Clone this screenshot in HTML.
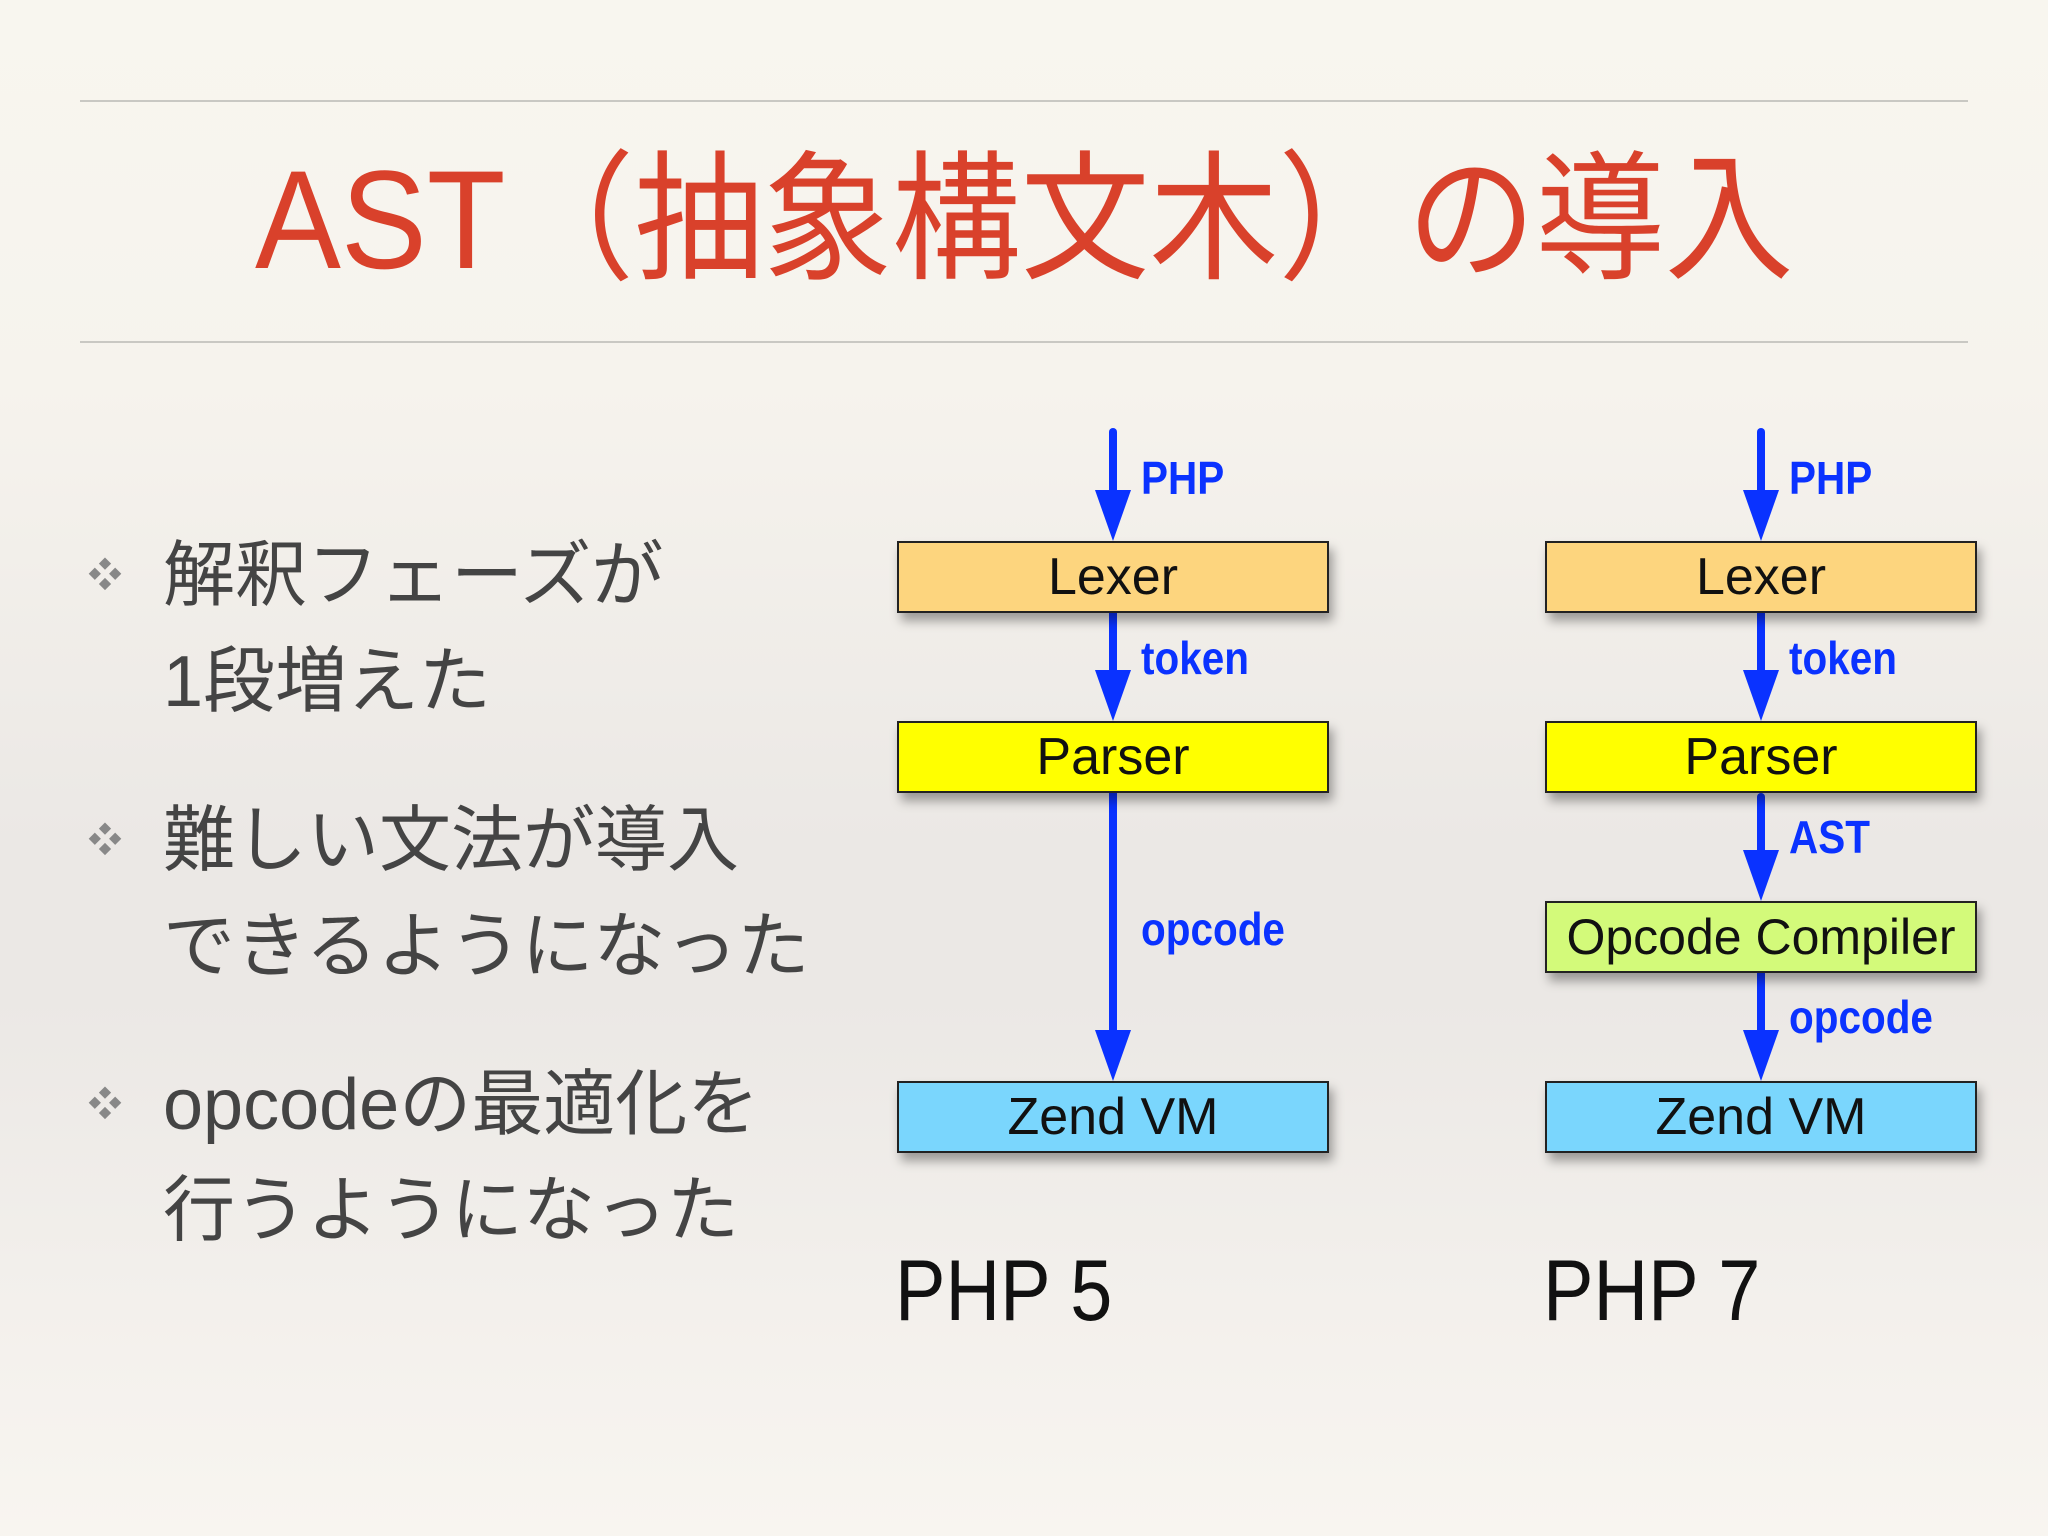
<!DOCTYPE html>
<html><head><meta charset="utf-8"><style>
html,body{margin:0;padding:0}
body{width:2048px;height:1536px;position:relative;overflow:hidden;
background:linear-gradient(180deg,#f8f6ef 0%,#f6f3ed 25%,#ebe8e5 55%,#ebe8e5 65%,#f3f0ec 85%,#f8f5f0 100%);
font-family:"Liberation Sans","Noto Sans CJK JP",sans-serif;}
.hl{position:absolute;left:80px;width:1888px;height:2px;background:#c9c8c3}
.title{position:absolute;left:255px;top:140px;font-size:140px;line-height:160px;color:#d9412b;white-space:nowrap;transform-origin:0 0;transform:scaleX(0.92)}
.b{position:absolute;left:163px;font-size:72px;line-height:90px;color:#444;white-space:nowrap}
.d{position:absolute;left:88px;font-size:34px;line-height:40px;color:#888}
.box{position:absolute;width:432px;height:72px;border:2px solid #222;box-sizing:border-box;text-align:center;font-size:52px;line-height:68px;color:#111;box-shadow:4px 8px 10px rgba(0,0,0,0.35)}
.lb{position:absolute;font-size:46px;line-height:50px;font-weight:bold;color:#0a32ff;transform-origin:0 50%;transform:scaleX(0.88);white-space:nowrap}
.php{position:absolute;font-size:86px;line-height:100px;color:#111;transform-origin:0 0;transform:scaleX(0.88);white-space:nowrap}
</style></head><body>
<div class="hl" style="top:100px"></div>
<div class="hl" style="top:341px"></div>
<div class="title">AST（抽象構文木）の導入</div>

<div class="d" style="top:556px">❖</div>
<div class="b" style="top:531px">解釈フェーズが</div>
<div class="b" style="top:637px">1段増えた</div>
<div class="d" style="top:821px">❖</div>
<div class="b" style="top:796px">難しい文法が導入</div>
<div class="b" style="top:902px">できるようになった</div>
<div class="d" style="top:1085px">❖</div>
<div class="b" style="top:1060px">opcodeの最適化を</div>
<div class="b" style="top:1166px">行うようになった</div>

<svg style="position:absolute;left:0;top:0" width="2048" height="1536">
<g fill="#0a32ff" stroke="#0a32ff">
<line x1="1113" y1="432" x2="1113" y2="500" stroke-width="8" stroke-linecap="round"/>
<polygon points="1095,490 1131,490 1113,541" stroke="none"/>
<line x1="1113" y1="613" x2="1113" y2="680" stroke-width="8" stroke-linecap="round"/>
<polygon points="1095,670 1131,670 1113,721" stroke="none"/>
<line x1="1113" y1="793" x2="1113" y2="1040" stroke-width="8"/>
<polygon points="1095,1030 1131,1030 1113,1081" stroke="none"/>

<line x1="1761" y1="432" x2="1761" y2="500" stroke-width="8" stroke-linecap="round"/>
<polygon points="1743,490 1779,490 1761,541" stroke="none"/>
<line x1="1761" y1="613" x2="1761" y2="680" stroke-width="8" stroke-linecap="round"/>
<polygon points="1743,670 1779,670 1761,721" stroke="none"/>
<line x1="1761" y1="797" x2="1761" y2="860" stroke-width="8" stroke-linecap="round"/>
<polygon points="1743,850 1779,850 1761,901" stroke="none"/>
<line x1="1761" y1="973" x2="1761" y2="1040" stroke-width="8"/>
<polygon points="1743,1030 1779,1030 1761,1081" stroke="none"/>
</g>
</svg>

<div class="box" style="left:897px;top:541px;background:#fdd57e">Lexer</div>
<div class="box" style="left:897px;top:721px;background:#ffff00">Parser</div>
<div class="box" style="left:897px;top:1081px;background:#7ad6fd">Zend VM</div>

<div class="box" style="left:1545px;top:541px;background:#fdd57e">Lexer</div>
<div class="box" style="left:1545px;top:721px;background:#ffff00">Parser</div>
<div class="box" style="left:1545px;top:901px;background:#d3fa7a;font-size:50px">Opcode Compiler</div>
<div class="box" style="left:1545px;top:1081px;background:#7ad6fd">Zend VM</div>

<div class="lb" style="left:1141px;top:453px">PHP</div>
<div class="lb" style="left:1141px;top:633px">token</div>
<div class="lb" style="left:1141px;top:904px">opcode</div>
<div class="lb" style="left:1789px;top:453px">PHP</div>
<div class="lb" style="left:1789px;top:633px">token</div>
<div class="lb" style="left:1789px;top:812px">AST</div>
<div class="lb" style="left:1789px;top:992px">opcode</div>

<div class="php" style="left:895px;top:1241px">PHP 5</div>
<div class="php" style="left:1543px;top:1241px">PHP 7</div>
</body></html>
